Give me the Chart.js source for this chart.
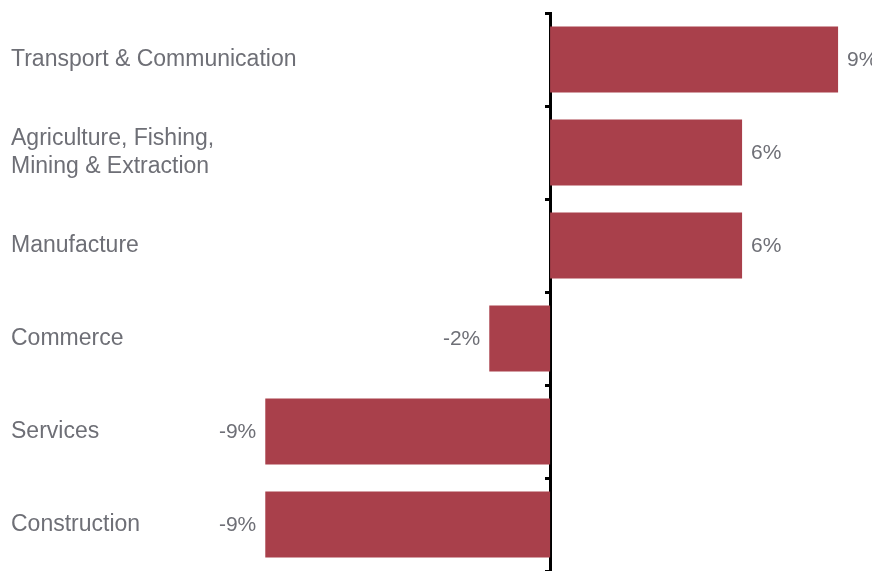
<!DOCTYPE html>
<html lang="en">
<head>
    <meta charset="UTF-8">
    <title>Sector change</title>
    <style>
        body {
            margin: 0;
            padding: 0;
            background: #fff;
        }

        #chartContainer {
            width: 872px;
            height: 571px;
        }
    </style>
</head>
<body>
    <div id="chartContainer">
        <canvas id="sectorChart"></canvas>
    </div>

    <script src="https://cdn.jsdelivr.net/npm/chart.js"></script>
    <script>
        // Chart data
        const sectors = [
            'Transport & Communication',
            ['Agriculture, Fishing,', 'Mining & Extraction'],
            'Manufacture',
            'Commerce',
            'Services',
            'Construction'
        ];
        const changes = [9.0, 6.0, 6.0, -1.9, -8.9, -8.9];

        const barColor = '#a9404b';
        const textColor = '#6e6f76';

        // value labels at bar ends
        const valueLabels = {
            id: 'valueLabels',
            afterDatasetsDraw(chart) {
                const ctx = chart.ctx;
                const meta = chart.getDatasetMeta(0);
                ctx.save();
                ctx.font = '21px "Liberation Sans", Arial, sans-serif';
                ctx.fillStyle = textColor;
                ctx.textBaseline = 'middle';
                meta.data.forEach((bar, i) => {
                    const v = changes[i];
                    const text = Math.round(v) + '%';
                    if (v >= 0) {
                        ctx.textAlign = 'left';
                        ctx.fillText(text, bar.x + 9, bar.y + 1);
                    } else {
                        ctx.textAlign = 'right';
                        ctx.fillText(text, bar.x - 9, bar.y + 1);
                    }
                });
                ctx.restore();
            }
        };

        const ctx = document.getElementById('sectorChart').getContext('2d');
        new Chart(ctx, {
            type: 'bar',
            data: {
                labels: sectors,
                datasets: [{
                    data: changes,
                    backgroundColor: barColor,
                    barPercentage: 0.71,
                    categoryPercentage: 1
                }]
            },
            options: {
                indexAxis: 'y',
                responsive: true,
                maintainAspectRatio: false,
                animation: false,
                layout: {
                    padding: { top: 13, right: 0, bottom: -2, left: 0 }
                },
                plugins: {
                    legend: { display: false },
                    tooltip: { enabled: false }
                },
                scales: {
                    x: {
                        display: false,
                        min: -17.19,
                        max: 10.06
                    },
                    // zero line with tick marks
                    y: {
                        position: { x: 0 },
                        offset: true,
                        z: 1,
                        ticks: { display: false },
                        border: { display: true, color: '#000', width: 3 },
                        grid: {
                            offset: true,
                            drawOnChartArea: false,
                            drawTicks: true,
                            tickLength: 4,
                            lineWidth: 3,
                            color: '#000'
                        }
                    },
                    // category names on the left
                    yl: {
                        type: 'category',
                        labels: sectors,
                        position: 'left',
                        offset: true,
                        border: { display: false },
                        grid: { display: false, drawTicks: false },
                        ticks: {
                            mirror: true,
                            padding: 11,
                            color: textColor,
                            font: { family: '"Liberation Sans", Arial, sans-serif', size: 23, lineHeight: 1.22 }
                        },
                        afterFit(scale) {
                            scale.width = 0;
                            scale.paddingTop = 0;
                            scale.paddingBottom = 0;
                        }
                    }
                }
            },
            plugins: [valueLabels]
        });
    </script>
</body>
</html>
